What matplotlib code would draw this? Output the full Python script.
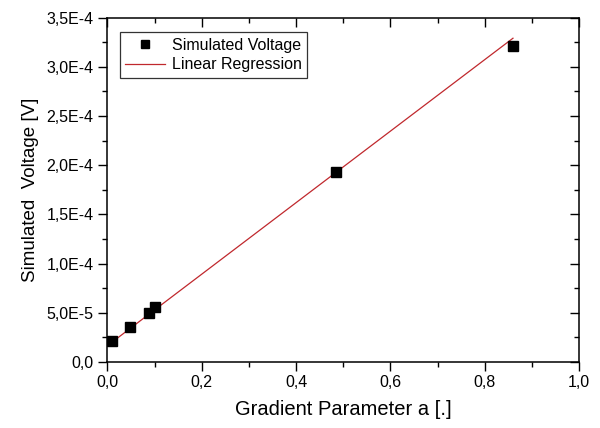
import numpy as np
import matplotlib
matplotlib.use("Agg")
import matplotlib.pyplot as plt
from matplotlib.ticker import FuncFormatter, MultipleLocator

gradient_a = [0.01, 0.048, 0.088, 0.10, 0.485, 0.86]
voltage = [2.13e-5, 3.56e-5, 4.98e-5, 5.55e-5, 1.93e-4, 3.215e-4]

# regression line end points
reg_x = [0.0117, 0.86]
reg_y = [2.09e-5, 3.29e-4]

plt.rcParams['font.family'] = ['Liberation Sans', 'DejaVu Sans']

fig = plt.figure(figsize=(6, 4.28), dpi=100)
ax = fig.add_axes([0.179, 0.154, 0.786, 0.805])

ax.plot(gradient_a, voltage, 's', color='black', markersize=6.5, label='Simulated Voltage', zorder=3)
ax.plot(reg_x, reg_y, '-', color='#c0282d', lw=0.9, label='Linear Regression', zorder=2)

ax.set_xlim(0, 1.0)
ax.set_ylim(0, 3.5e-4)
ax.xaxis.set_major_locator(MultipleLocator(0.2))
ax.xaxis.set_minor_locator(MultipleLocator(0.1))
ax.yaxis.set_major_locator(MultipleLocator(5e-5))
ax.yaxis.set_minor_locator(MultipleLocator(2.5e-5))

def xfmt(v, p):
    return f"{v:.1f}".replace('.', ',')

def yfmt(v, p):
    if abs(v) < 1e-12:
        return "0,0"
    s = f"{v:.1E}"
    mant, exp = s.split('E')
    return f"{mant.replace('.', ',')}E{int(exp)}"

ax.xaxis.set_major_formatter(FuncFormatter(xfmt))
ax.yaxis.set_major_formatter(FuncFormatter(yfmt))

ax.tick_params(axis='both', which='major', direction='out', length=6.5, width=1, labelsize=11.5, colors='black')
ax.tick_params(axis='both', which='minor', direction='out', length=3.5, width=1)
ax.tick_params(axis='x', which='major', pad=3)
ax.tick_params(axis='y', which='major', pad=3.5)
ax.tick_params(top=True, right=True, which='both')
for t in ax.xaxis.get_major_ticks() + ax.xaxis.get_minor_ticks():
    t.tick2line.set_marker(3)  # inward on top
for t in ax.yaxis.get_major_ticks() + ax.yaxis.get_minor_ticks():
    t.tick2line.set_marker(0)  # inward on right

for s in ax.spines.values():
    s.set_linewidth(1.1)

ax.set_xlabel('Gradient Parameter a [.]', fontsize=14.5, labelpad=7)
ax.set_ylabel('Simulated  Voltage [V]', fontsize=13.5, labelpad=5)

leg = ax.legend(loc='upper left', bbox_to_anchor=(0.0265, 0.958), borderaxespad=0,
                frameon=True, fancybox=False, edgecolor='black', fontsize=11.5,
                handlelength=2.5, borderpad=0.35, labelspacing=0.3, handletextpad=0.4,
                markerscale=0.85)
leg.get_frame().set_linewidth(0.9)

fig.savefig('out.png', dpi=100)
